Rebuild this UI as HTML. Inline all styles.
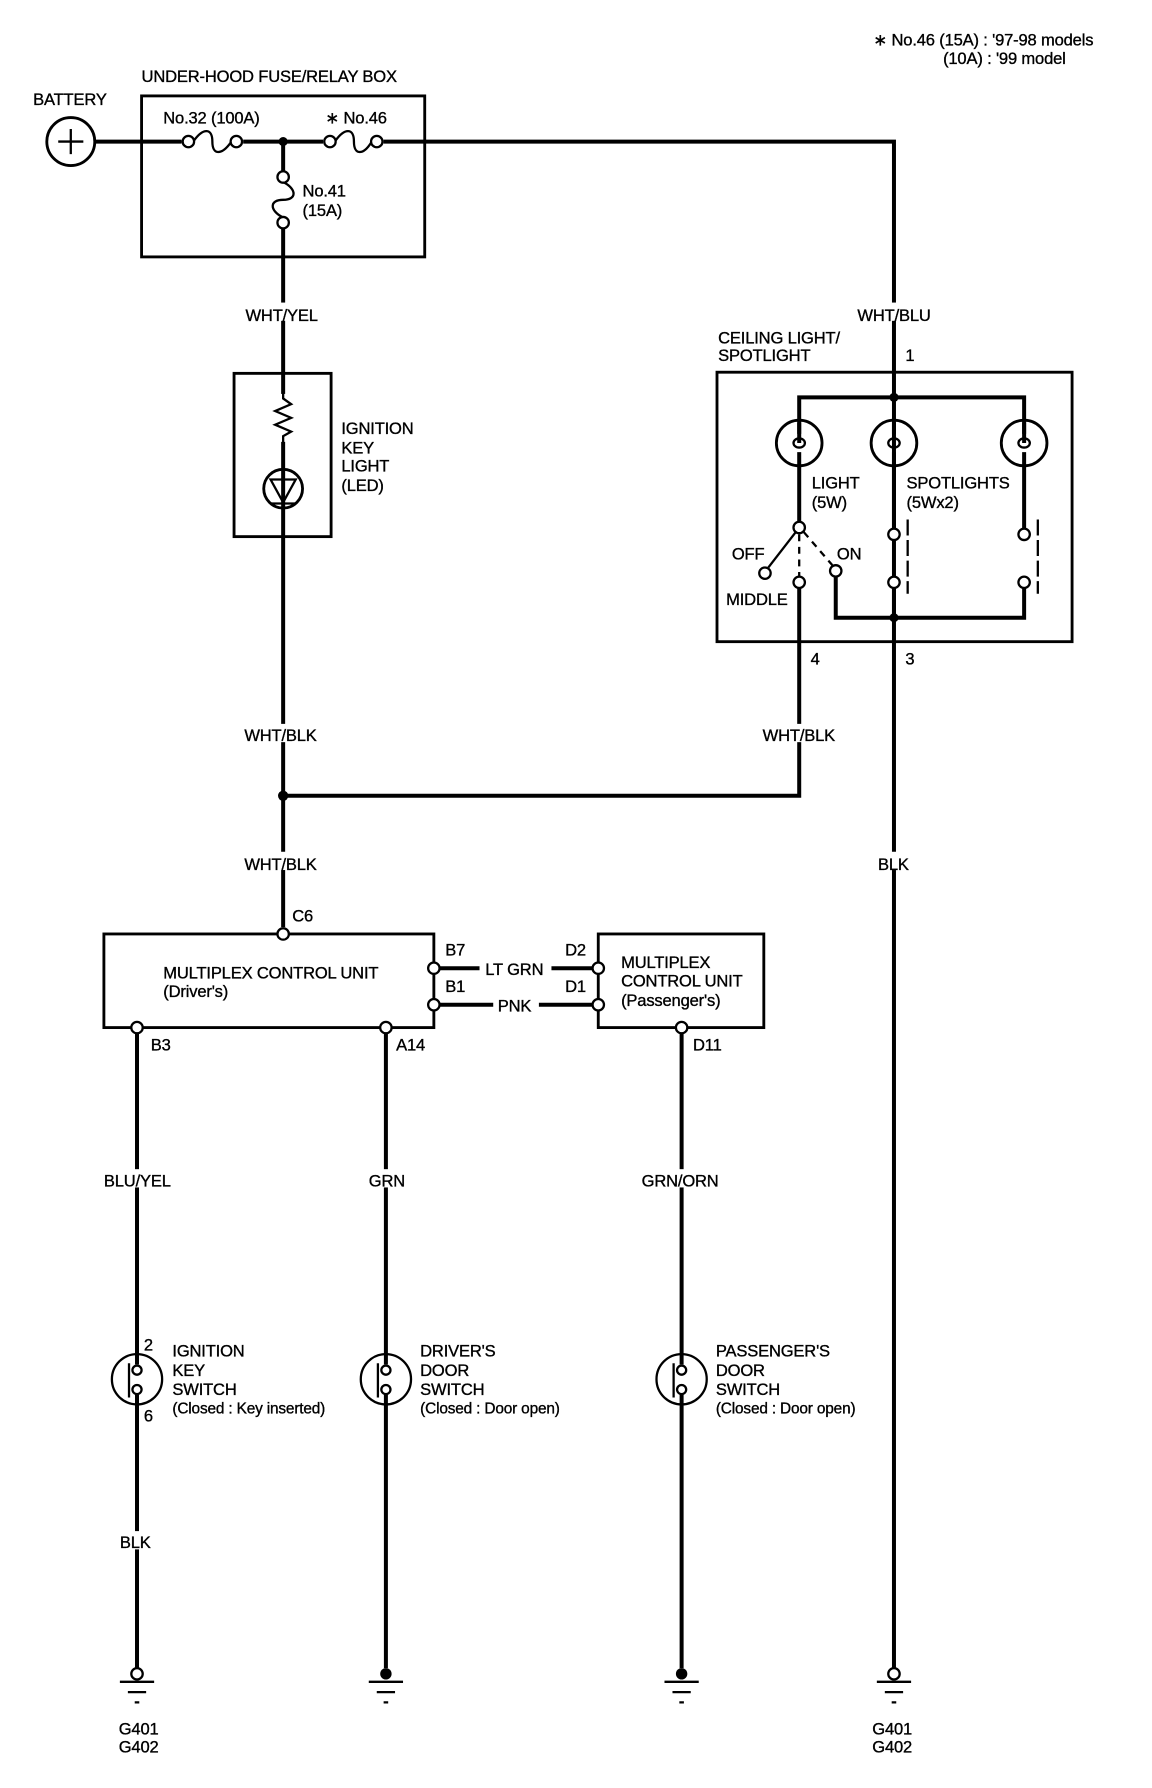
<!DOCTYPE html>
<html><head><meta charset="utf-8"><style>
html,body{margin:0;padding:0;background:#fff}
svg{display:block}
text{font-family:"Liberation Sans",sans-serif;font-size:14.5px;fill:#000;letter-spacing:-0.15px;stroke:#000;stroke-width:0.3}
.w{stroke:#000;stroke-width:3.5;fill:none}
.b{stroke:#000;stroke-width:2.5;fill:none}
.t{stroke:#000;stroke-width:2;fill:none}
.o{stroke:#000;stroke-width:2;fill:#fff}
.lb{stroke:none;fill:#fff}
</style></head><body>
<svg width="1152" height="1788" viewBox="0 0 1009 1566" preserveAspectRatio="none" xmlns="http://www.w3.org/2000/svg">
<!-- note -->
<text x="765" y="40">∗ No.46 (15A) : '97-98 models</text>
<text x="826" y="56">(10A) : '99 model</text>
<!-- battery -->
<text x="29" y="92">BATTERY</text>
<circle cx="62" cy="124" r="21" class="b"/>
<line x1="51" y1="124" x2="73" y2="124" class="t"/>
<line x1="62" y1="113" x2="62" y2="135" class="t"/>
<!-- fuse box -->
<text x="124" y="72">UNDER-HOOD FUSE/RELAY BOX</text>
<rect x="124" y="84" width="248" height="141" class="b"/>
<text x="143" y="108">No.32 (100A)</text>
<text x="285" y="108">∗ No.46</text>
<path d="M83 124 H159 M213 124 H283 M336 124 H783 V1461" class="w"/>
<circle cx="165" cy="124" r="5" class="o"/><circle cx="207" cy="124" r="5" class="o"/>
<path d="M170 123 C178 112 186 112 186 124 C186 136 194 136 202 125" class="t"/>
<circle cx="289" cy="124" r="5" class="o"/><circle cx="330" cy="124" r="5" class="o"/>
<path d="M294 123 C302 112 310 112 310 124 C310 136 318 136 325 125" class="t"/>
<circle cx="248" cy="124" r="4" fill="#000"/>
<!-- fuse 41 -->
<path d="M248 124 V150 M248 200 V812" class="w"/>
<circle cx="248" cy="155" r="5" class="o"/><circle cx="248" cy="195" r="5" class="o"/>
<path d="M249 160 C260 166 260 175 248 175 C236 175 236 184 247 190" class="t"/>
<text x="265" y="172">No.41</text><text x="265" y="189">(15A)</text>
<!-- WHT/YEL -->
<rect x="214" y="265" width="68" height="16" class="lb"/>
<text x="215" y="281">WHT/YEL</text>
<!-- ignition key light -->
<rect x="205" y="327" width="85" height="143" class="b"/>
<rect x="240" y="345" width="16" height="42" class="lb"/>
<path d="M248 343 V349 L255 354 L241 360 L255 366 L241 372 L255 378 L248 382 V411" class="t"/>
<circle cx="248" cy="428" r="17" class="b"/>
<path d="M237 420 H259 L248 440 Z" class="t"/>
<line x1="237" y1="441" x2="259" y2="441" class="t"/>
<text x="299" y="380">IGNITION</text><text x="299" y="397">KEY</text><text x="299" y="413">LIGHT</text><text x="299" y="430">(LED)</text>
<!-- ceiling light -->
<rect x="748" y="265" width="70" height="16" class="lb"/>
<text x="751" y="281">WHT/BLU</text>
<text x="629" y="301">CEILING LIGHT/</text><text x="629" y="316">SPOTLIGHT</text>
<text x="793" y="316">1</text>
<rect x="628" y="326" width="311" height="236" class="b"/>
<path d="M700 388 V348 H897 V388" class="w"/>
<circle cx="783" cy="348" r="4" fill="#000"/>
<g>
<circle cx="700" cy="388" r="20" class="b"/><circle cx="783" cy="388" r="20" class="b"/><circle cx="897" cy="388" r="20" class="b"/>
<path d="M700 370 V380 M700 396 V457" class="w"/>
<path d="M783 370 V380 M783 396 V463" class="w"/>
<path d="M897 370 V380 M897 396 V463" class="w"/>
<ellipse cx="700" cy="388" rx="5" ry="4" class="t"/>
<ellipse cx="783" cy="388" rx="5" ry="4" class="t"/>
<ellipse cx="897" cy="388" rx="5" ry="4" class="t"/>
</g>
<text x="711" y="428">LIGHT</text><text x="711" y="445">(5W)</text>
<text x="794" y="428">SPOTLIGHTS</text><text x="794" y="445">(5Wx2)</text>
<!-- switch -->
<circle cx="700" cy="462" r="5" class="o"/>
<line x1="697" y1="466" x2="673" y2="497" class="t"/>
<circle cx="670" cy="502" r="5" class="o"/>
<line x1="700" y1="468" x2="700" y2="505" class="t" stroke-dasharray="6,5"/>
<line x1="704" y1="466" x2="729" y2="495" class="t" stroke-dasharray="6,5"/>
<circle cx="700" cy="510" r="5" class="o"/>
<circle cx="732" cy="500" r="5" class="o"/>
<text x="641" y="490">OFF</text><text x="733" y="490">ON</text><text x="636" y="530">MIDDLE</text>
<circle cx="783" cy="468" r="5" class="o"/><circle cx="783" cy="510" r="5" class="o"/>
<circle cx="897" cy="468" r="5" class="o"/><circle cx="897" cy="510" r="5" class="o"/>
<line x1="795" y1="455" x2="795" y2="520" class="t" stroke-dasharray="14,4"/>
<line x1="909" y1="455" x2="909" y2="520" class="t" stroke-dasharray="14,4"/>
<path d="M732 505 V541 H897 V515" class="w"/>
<path d="M783 515 V541" class="w"/>
<circle cx="783" cy="541" r="4" fill="#000"/>
<path d="M700 515 V697 H248" class="w"/>
<text x="710" y="582">4</text><text x="793" y="582">3</text>
<!-- WHT/BLK labels -->
<rect x="213" y="634" width="70" height="16" class="lb"/>
<text x="214" y="649">WHT/BLK</text>
<rect x="666" y="634" width="70" height="16" class="lb"/>
<text x="668" y="649">WHT/BLK</text>
<circle cx="248" cy="697" r="4.5" fill="#000"/>
<rect x="213" y="746" width="70" height="16" class="lb"/>
<text x="214" y="762">WHT/BLK</text>
<rect x="768" y="746" width="30" height="16" class="lb"/>
<text x="769" y="762">BLK</text>
<!-- MCU driver -->
<rect x="91" y="818" width="289" height="82" class="b"/>
<circle cx="248" cy="818" r="5" class="o"/>
<text x="256" y="807">C6</text>
<text x="143" y="857">MULTIPLEX CONTROL UNIT</text>
<text x="143" y="873">(Driver's)</text>
<circle cx="380" cy="848" r="5" class="o"/><circle cx="380" cy="880" r="5" class="o"/>
<text x="390" y="837">B7</text><text x="390" y="869">B1</text>
<path d="M385 848 H420 M483 848 H519 M385 880 H432 M472 880 H519" class="w"/>
<text x="425" y="854">LT GRN</text><text x="436" y="886">PNK</text>
<!-- MCU passenger -->
<rect x="524" y="818" width="145" height="82" class="b"/>
<circle cx="524" cy="848" r="5" class="o"/><circle cx="524" cy="880" r="5" class="o"/>
<text x="495" y="837">D2</text><text x="495" y="869">D1</text>
<text x="544" y="848">MULTIPLEX</text><text x="544" y="864">CONTROL UNIT</text><text x="544" y="881">(Passenger's)</text>
<!-- bottom wires -->
<circle cx="120" cy="900" r="5" class="o"/><circle cx="338" cy="900" r="5" class="o"/><circle cx="597" cy="900" r="5" class="o"/>
<text x="132" y="920">B3</text><text x="347" y="920">A14</text><text x="607" y="920">D11</text>
<path d="M120 905 V1461 M338 905 V1461 M597 905 V1461" class="w"/>
<rect x="90" y="1024" width="62" height="16" class="lb"/><text x="91" y="1039">BLU/YEL</text>
<rect x="322" y="1024" width="34" height="16" class="lb"/><text x="323" y="1039">GRN</text>
<rect x="561" y="1024" width="72" height="16" class="lb"/><text x="562" y="1039">GRN/ORN</text>
<rect x="104" y="1341" width="32" height="16" class="lb"/><text x="105" y="1356">BLK</text>
<!-- switches -->
<g>
<circle cx="120" cy="1208" r="22" class="o"/>
<circle cx="338" cy="1208" r="22" class="o"/>
<circle cx="597" cy="1208" r="22" class="o"/>
</g>
<path d="M120 1186 V1195 M120 1221 V1230 M338 1186 V1195 M338 1221 V1230 M597 1186 V1195 M597 1221 V1230" class="w"/>
<g>
<circle cx="120" cy="1200" r="4" class="o"/><circle cx="120" cy="1217" r="4" class="o"/><line x1="113" y1="1194" x2="113" y2="1224" class="t"/>
<circle cx="338" cy="1200" r="4" class="o"/><circle cx="338" cy="1217" r="4" class="o"/><line x1="331" y1="1194" x2="331" y2="1224" class="t"/>
<circle cx="597" cy="1200" r="4" class="o"/><circle cx="597" cy="1217" r="4" class="o"/><line x1="590" y1="1194" x2="590" y2="1224" class="t"/>
</g>
<text x="126" y="1183">2</text><text x="126" y="1245">6</text>
<text x="151" y="1188">IGNITION</text><text x="151" y="1205">KEY</text><text x="151" y="1222">SWITCH</text><text x="151" y="1238" style="font-size:13.5px">(Closed : Key inserted)</text>
<text x="368" y="1188">DRIVER'S</text><text x="368" y="1205">DOOR</text><text x="368" y="1222">SWITCH</text><text x="368" y="1238" style="font-size:13.5px">(Closed : Door open)</text>
<text x="627" y="1188">PASSENGER'S</text><text x="627" y="1205">DOOR</text><text x="627" y="1222">SWITCH</text><text x="627" y="1238" style="font-size:13.5px">(Closed : Door open)</text>
<!-- grounds -->
<circle cx="120" cy="1466" r="5" class="o"/>
<circle cx="338" cy="1466" r="5" fill="#000"/>
<circle cx="597" cy="1466" r="5" fill="#000"/>
<circle cx="783" cy="1466" r="5" class="o"/>
<path d="M105 1473 H135 M112 1482 H128 M118 1491 H122 M323 1473 H353 M330 1482 H346 M336 1491 H340 M582 1473 H612 M589 1482 H605 M595 1491 H599 M768 1473 H798 M775 1482 H791 M781 1491 H785" class="t"/>
<text x="104" y="1519">G401</text><text x="104" y="1535">G402</text>
<text x="764" y="1519">G401</text><text x="764" y="1535">G402</text>
</svg>
</body></html>
